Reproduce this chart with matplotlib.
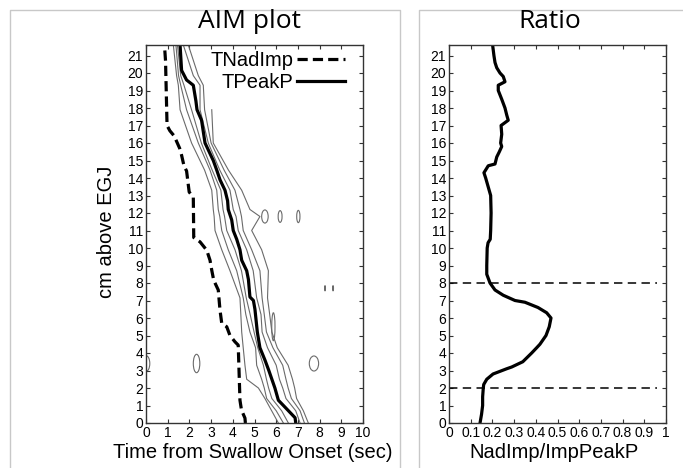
import numpy as np
import matplotlib.pyplot as plt
from matplotlib.patches import Ellipse
from matplotlib.lines import Line2D

# --- AIM plot data (time in sec vs cm above EGJ) ---
peak_cm = [0, 0.3, 0.9, 1.3, 2.0, 2.5, 3.0, 3.6, 4.3, 5.2, 6.5, 7.0, 7.2, 8.2, 8.7, 9.3,
           9.9, 10.5, 11.0, 11.6, 12.2, 12.7, 13.3, 13.9, 14.45, 15.0, 16.0, 17.3, 17.9,
           18.4, 19.3, 19.6, 20.15, 21.6]
peak_t = [6.9, 6.87, 6.41, 6.1, 5.94, 5.8, 5.66, 5.48, 5.25, 5.13, 5.02, 4.95, 4.79, 4.72,
          4.64, 4.41, 4.33, 4.18, 4.02, 3.95, 3.79, 3.76, 3.64, 3.41, 3.26, 3.1, 2.72, 2.56,
          2.35, 2.3, 2.18, 1.87, 1.64, 1.57]

nad_cm = [0, 0.28, 0.74, 1.3, 4.45, 4.64, 5.0, 5.5, 5.7, 6.45, 7.6, 8.16, 8.73, 9.3, 9.87,
          10.35, 10.6, 12.9, 13.2, 13.6, 14.4, 14.7, 15.3, 15.7, 16.4, 16.7, 17.0, 20.7, 21.6]
nad_t = [4.58, 4.56, 4.4, 4.33, 4.25, 4.1, 3.87, 3.72, 3.49, 3.41, 3.33, 3.12, 3.03, 2.95,
         2.8, 2.49, 2.2, 2.18, 1.99, 1.95, 1.87, 1.75, 1.64, 1.55, 1.3, 1.1, 0.97, 0.9, 0.85]

contour_cm = [0, 0.7, 1.4, 2.0, 2.5, 3.3, 4.3, 5.2, 6.2, 7.15, 8.7, 9.9, 11.0, 11.8, 12.2,
              13.3, 14.45, 16.0, 17.9, 19.3, 19.85, 21.6]
contour_L1 = [6.1, 5.79, 5.48, 5.18, 4.64, 4.56, 4.48, 4.41, 4.37, 4.33, 3.87, 3.49, 3.18,
              3.14, 3.1, 3.03, 2.7, 2.1, 1.57, 1.49, 1.41, 1.26]
contour_L2 = [6.33, 6.0, 5.56, 5.45, 5.33, 5.1, 5.05, 4.79, 4.6, 4.48, 4.18, 3.79, 3.49,
              3.4, 3.33, 3.26, 2.95, 2.41, 1.87, 1.6, 1.5, 1.38]
contour_L3 = [6.56, 6.25, 5.8, 5.65, 5.55, 5.41, 5.15, 4.98, 4.8, 4.62, 4.4, 4.1, 3.72,
              3.62, 3.55, 3.45, 3.05, 2.55, 2.1, 1.75, 1.6, 1.45]
contour_R1 = [7.1, 6.9, 6.45, 6.3, 6.15, 6.0, 5.6, 5.35, 5.3, 5.1, 4.94, 4.64, 4.25,
              4.15, 4.02, 3.87, 3.4, 2.87, 2.49, 2.49, 2.18, 1.72]
contour_R2 = [7.3, 7.1, 6.7, 6.55, 6.45, 6.3, 5.85, 5.55, 5.45, 5.35, 5.25, 4.87, 4.48,
              4.4, 4.33, 4.1, 3.6, 3.0, 2.7, 2.64, 2.41, 1.95]
contour_R3 = [7.48, 7.25, 6.94, 6.85, 6.75, 6.55, 6.05, 5.8, 5.7, 5.6, 5.64, 5.33, 4.87,
              5.25, 4.79, 4.41, 3.8, 3.1, 3.03, np.nan, np.nan, np.nan]

island_t = [0.0, 2.33, 7.74, 5.48, 6.18, 7.02, 5.87, 8.25, 8.62]
island_cm = [3.4, 3.4, 3.4, 11.8, 11.8, 11.8, 5.5, 7.7, 7.7]
island_w = [0.35, 0.3, 0.43, 0.3, 0.18, 0.15, 0.15, 0.04, 0.04]
island_h = [0.9, 1.05, 0.86, 0.75, 0.67, 0.7, 1.6, 0.3, 0.3]

# --- Ratio data ---
ratio_cm = [0, 0.5, 1, 1.5, 2, 2.2, 2.5, 2.8, 3.1, 3.2, 3.5, 4.0, 4.3, 4.5, 5.0, 5.5, 6.0,
            6.3, 6.6, 6.9, 7.0, 7.3, 7.6, 8.0, 8.5, 9.0, 9.5, 10.0, 10.3, 10.5, 11.0, 12.0,
            13.0, 14.0, 14.3, 14.7, 14.8, 15.2, 15.5, 15.8, 16.0, 16.5, 17.0, 17.3, 17.6,
            18.0, 18.5, 19.0, 19.3, 19.5, 19.8, 20.0, 20.3, 20.6, 21.0, 21.6]
ratio = [0.143, 0.15, 0.155, 0.155, 0.158, 0.16, 0.174, 0.203, 0.266, 0.289, 0.34, 0.381,
         0.404, 0.419, 0.447, 0.462, 0.47, 0.45, 0.41, 0.35, 0.304, 0.25, 0.212, 0.189,
         0.174, 0.174, 0.175, 0.176, 0.18, 0.19, 0.192, 0.194, 0.192, 0.169, 0.161, 0.181,
         0.212, 0.22, 0.232, 0.243, 0.238, 0.243, 0.24, 0.273, 0.266, 0.258, 0.243, 0.227,
         0.227, 0.258, 0.25, 0.235, 0.22, 0.212, 0.207, 0.201]
ratio_bounds = [2, 8]

W, H = 683, 468
fig = plt.figure(figsize=(W / 100, H / 100), dpi=100)
plt.rcParams['font.family'] = ['Liberation Sans', 'DejaVu Sans']


def fx(px):
    return px / W


def fy(py):
    return 1 - py / H


# light gray panel frames
frame_col = '#c8c8c8'
fig.add_artist(Line2D([fx(10), fx(10), fx(400), fx(400)], [0, fy(10), fy(10), 0],
                      color=frame_col, lw=1))
fig.add_artist(Line2D([fx(419), fx(419), 1], [0, fy(10), fy(10)], color=frame_col, lw=1))

ax1 = fig.add_axes([fx(146), fy(423), fx(363 - 146), (423 - 45) / H])
ax2 = fig.add_axes([fx(449), fy(423), fx(666 - 449), (423 - 45) / H])

gray = '#6a6a6a'
for c in [contour_L1, contour_L2, contour_L3, contour_R1, contour_R2, contour_R3]:
    ax1.plot(c, contour_cm, color=gray, lw=0.8)
for t, cm, w, h in zip(island_t, island_cm, island_w, island_h):
    ax1.add_patch(Ellipse((t, cm), w, h, fill=False, ec=gray, lw=0.8))

ax1.plot(nad_t, nad_cm, color='black', lw=2.3, ls=(0, (3.2, 1.6)), label='TNadImp')
ax1.plot(peak_t, peak_cm, color='black', lw=2.3, label='TPeakP')

ax1.set_xlim(0, 10)
ax1.set_ylim(0, 21.6)
ax1.set_xticks(range(0, 11))
ax1.set_yticks(range(0, 22))

leg = ax1.legend(loc='upper right', bbox_to_anchor=(1 - 14 / 217, 0.995), frameon=False,
                 markerfirst=False, fontsize=14.5, handlelength=2.4, handletextpad=0.15,
                 borderaxespad=0, borderpad=0.2, labelspacing=0.15)

ax2.plot(ratio, ratio_cm, color='black', lw=2.3)
for b in ratio_bounds:
    ax2.plot([0, 0.96], [b, b], color='black', lw=1.1, ls=(0, (5.5, 3.5)))
ax2.set_xlim(0, 1)
ax2.set_ylim(0, 21.6)
ax2.set_xticks(np.arange(0, 11) / 10)
ax2.set_xticklabels(['0'] + ['%.1f' % v for v in np.arange(1, 10) / 10] + ['1'])
ax2.set_yticks(range(0, 22))

for ax in (ax1, ax2):
    ax.tick_params(direction='in', top=True, right=True, length=3, width=0.8,
                   labelsize=10, pad=2, color='#333333')
    for s in ax.spines.values():
        s.set_linewidth(1.0)
        s.set_color('#333333')

fig.text(fx(250), fy(22), 'AIM plot', ha='center', va='center', fontsize=19,
         family='Open Sans')
fig.text(fx(550), fy(22), 'Ratio', ha='center', va='center', fontsize=19,
         family='Open Sans')
fig.text(fx(253), fy(452), 'Time from Swallow Onset (sec)', ha='center', va='center',
         fontsize=14.5)
fig.text(fx(554), fy(452), 'NadImp/ImpPeakP', ha='center', va='center', fontsize=14.5)
fig.text(fx(107), fy(232), 'cm above EGJ', ha='center', va='center', rotation=90,
         fontsize=14.5)

fig.savefig('out.png', dpi=100)
